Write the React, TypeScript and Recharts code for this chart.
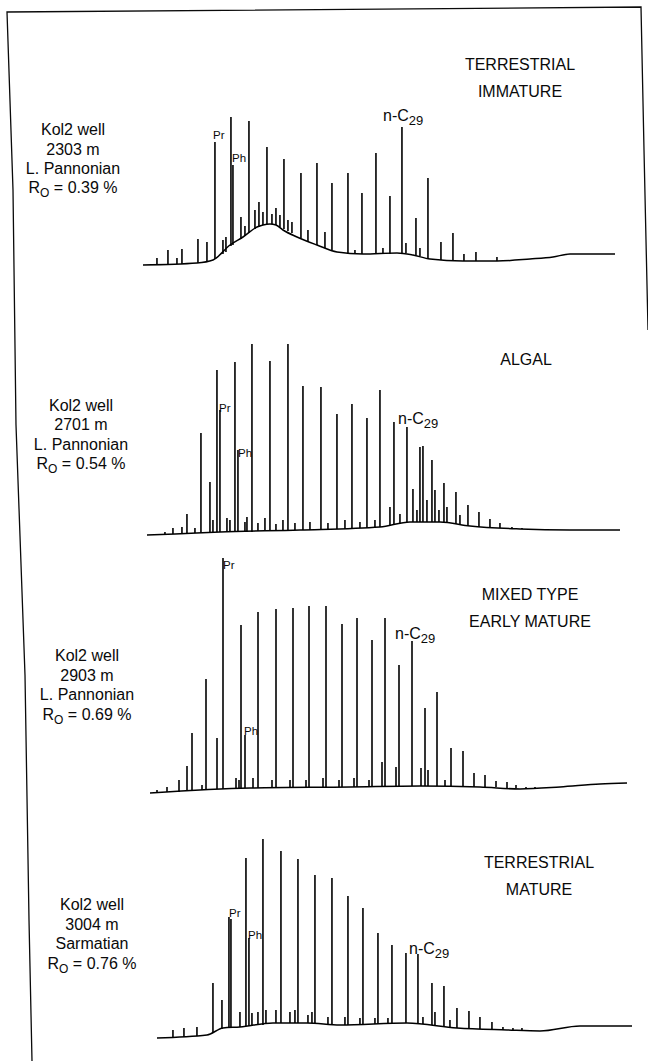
import React from "react";
import { ComposedChart, Bar, Line, XAxis, YAxis } from "recharts";

// ---------- data (retention time, arbitrary units; intensity, arbitrary units) ----------
// peaks: [retentionTime, foot intensity, apex intensity]
const peaks1: number[][] = [
  [1.7, 5, 12], [2.8, 6, 20], [3.7, 6, 12], [4.2, 6, 21], [5.8, 7, 31], [6.7, 8, 28],
  [7.5, 11, 128], [8.3, 16, 30], [8.6, 18, 33], [9.1, 24, 153], [9.3, 25, 105],
  [10.1, 31, 53], [10.5, 34, 44], [10.9, 37, 149], [11.5, 41, 60], [11.9, 43, 68],
  [12.3, 45, 58], [12.7, 46, 123], [13.2, 46, 56], [13.6, 45, 62], [14.0, 43, 55],
  [14.4, 41, 111], [14.8, 39, 50], [15.2, 37, 48], [16.1, 32, 97], [16.8, 29, 40],
  [17.7, 25, 107], [18.5, 22, 38], [19.2, 20, 87], [20.8, 17, 97], [21.5, 16, 20],
  [22.2, 16, 77], [23.6, 16, 117], [24.3, 16, 22], [25.0, 16, 74], [26.2, 17, 143],
  [26.6, 17, 27], [27.6, 15, 52], [28.0, 14, 22], [28.8, 12, 92], [30.1, 10, 28],
  [31.3, 9, 37], [32.4, 9, 16], [33.6, 9, 18], [35.7, 9, 13],
];
const baseline1: number[][] = [
  [0.3, 5], [5.7, 7], [7.3, 10], [9.0, 25], [10.3, 33], [11.7, 43], [12.3, 45],
  [13.0, 46], [13.6, 45], [14.3, 40], [15.7, 33], [17.7, 25], [19.7, 18], [22.3, 16],
  [25.7, 17], [27.3, 15], [29.0, 11], [32.3, 9], [35.7, 9], [39.0, 11], [41.3, 13],
  [43.0, 16], [47.5, 16],
];

const peaks2: number[][] = [
  [2.5, 6, 8], [3.3, 6, 12], [4.2, 6, 13], [4.7, 6, 26], [5.5, 7, 12], [6.1, 7, 107],
  [7.0, 7, 58], [7.3, 7, 20], [7.7, 8, 170], [8.0, 8, 130], [8.7, 8, 22], [9.0, 8, 20],
  [9.5, 8, 178], [9.8, 8, 90], [10.5, 8, 18], [10.7, 8, 23], [11.2, 8, 196], [11.8, 9, 17],
  [12.5, 9, 22], [13.0, 9, 179], [13.6, 9, 16], [14.3, 9, 20], [14.8, 9, 196], [15.5, 10, 17],
  [16.3, 10, 154], [17.0, 10, 18], [18.1, 10, 153], [18.8, 10, 17], [19.7, 11, 126],
  [20.5, 11, 20], [21.2, 11, 136], [22.0, 12, 18], [22.7, 12, 122], [23.5, 12, 20],
  [24.0, 13, 150], [25.0, 14, 33], [25.4, 15, 118], [26.0, 16, 26], [26.7, 18, 113],
  [27.3, 18, 51], [27.7, 18, 30], [28.0, 18, 93], [28.3, 18, 94], [28.7, 18, 40],
  [29.2, 18, 80], [29.5, 18, 50], [29.9, 18, 30], [30.4, 18, 57], [30.7, 17, 33],
  [31.6, 16, 48], [32.0, 15, 25], [32.8, 14, 35], [33.9, 13, 28], [35.0, 12, 21],
  [36.0, 12, 17], [37.2, 11, 13], [38.2, 11, 12],
];
const baseline2: number[][] = [
  [0.7, 5], [3.5, 6], [8.0, 8], [16.0, 10], [24.0, 13], [27.0, 18], [30.0, 18],
  [33.0, 14], [38.0, 11], [43.0, 10], [48.0, 10],
];

const peaks3: number[][] = [
  [1.7, 7, 10], [2.7, 8, 13], [3.9, 8, 20], [4.7, 9, 34], [5.2, 9, 67], [6.2, 10, 15],
  [6.6, 10, 121], [7.7, 11, 62], [8.3, 11, 242], [9.6, 12, 22], [9.9, 12, 20],
  [10.1, 12, 175], [10.5, 12, 65], [11.3, 12, 22], [11.8, 12, 188], [13.2, 12, 20],
  [13.6, 12, 191], [15.0, 12, 20], [15.3, 12, 192], [16.6, 12, 20], [16.9, 12, 194],
  [18.3, 13, 22], [18.6, 13, 194], [19.9, 13, 20], [20.2, 13, 176], [21.4, 13, 22],
  [21.7, 13, 182], [22.9, 13, 20], [23.2, 13, 160], [24.2, 13, 38], [24.5, 13, 182],
  [25.6, 14, 33], [25.9, 14, 135], [27.2, 14, 159], [28.1, 14, 32], [28.5, 14, 92],
  [28.8, 14, 30], [29.7, 14, 108], [30.5, 14, 20], [31.1, 14, 52], [32.3, 13, 49],
  [33.4, 13, 27], [34.5, 13, 25], [35.6, 13, 19], [36.7, 12, 18], [37.6, 12, 15],
  [38.6, 11, 13], [39.5, 12, 13],
];
const baseline3: number[][] = [
  [1.0, 7], [11.0, 12], [21.0, 13], [28.0, 14], [34.0, 13], [38.0, 11], [42.0, 13],
  [46.0, 16], [48.7, 17],
];

const peaks4: number[][] = [
  [3.3, 8, 15], [4.4, 8, 17], [5.7, 9, 18], [7.3, 12, 62], [8.2, 16, 45], [8.9, 17, 128],
  [9.1, 17, 126], [10.0, 18, 33], [10.6, 19, 187], [10.9, 19, 107], [11.2, 19, 32],
  [11.8, 20, 33], [12.3, 20, 206], [12.6, 21, 35], [13.6, 22, 35], [14.1, 22, 194],
  [15.0, 22, 33], [15.5, 22, 35], [15.8, 22, 186], [16.8, 22, 30], [17.2, 22, 33],
  [17.5, 22, 170], [18.8, 21, 28], [19.2, 21, 167], [20.5, 20, 28], [20.8, 20, 149],
  [22.0, 21, 27], [22.3, 21, 137], [23.5, 21, 27], [23.8, 21, 112], [24.8, 22, 27],
  [25.2, 22, 100], [26.6, 22, 92], [27.8, 21, 91], [28.3, 21, 28], [29.2, 20, 62],
  [29.5, 20, 33], [30.4, 19, 59], [31.0, 18, 25], [31.7, 17, 37], [32.9, 16, 34],
  [34.0, 16, 28], [35.2, 15, 23], [36.3, 15, 18], [37.3, 15, 17], [38.2, 15, 17],
];
const baseline4: number[][] = [
  [1.7, 7], [6.7, 10], [8.3, 17], [10.0, 18], [13.3, 22], [16.7, 22], [20.0, 20],
  [26.7, 22], [31.7, 17], [36.7, 15], [40.0, 14], [44.0, 19], [49.2, 19],
];

// sample descriptions
const sampleLines1 = ["Kol2 well", "2303 m", "L. Pannonian", "0.39 %"];
const sampleLines2 = ["Kol2 well", "2701 m", "L. Pannonian", "0.54 %"];
const sampleLines3 = ["Kol2 well", "2903 m", "L. Pannonian", "0.69 %"];
const sampleLines4 = ["Kol2 well", "3004 m", "Sarmatian", "0.76 %"];
const typeLines1 = ["TERRESTRIAL", "IMMATURE"];
const typeLines2 = ["ALGAL"];
const typeLines3 = ["MIXED TYPE", "EARLY MATURE"];
const typeLines4 = ["TERRESTRIAL", "MATURE"];

const FONT = '"Liberation Sans", Arial, Helvetica, sans-serif';
const INK = "#0a0a0a";

type PanelProps = { peaks: number[][]; baseline: number[][]; top: number; max: number };

// draws each range bar as a crisp vertical stroke at the bar's centre
function PeakShape(props: any) {
  const { x, y, width, height } = props;
  if (x == null || y == null) return null;
  const cx = x + (width || 0) / 2;
  return <line x1={cx} x2={cx} y1={y} y2={y + height} stroke="#000" strokeWidth={1.6} />;
}

function Panel({ peaks, baseline, top, max }: PanelProps) {
  const data = peaks.map(([rt, lo, hi]) => ({ rt, range: [lo, hi] }));
  const base = baseline.map(([rt, i]) => ({ rt, i }));
  const height = max + 20;
  return (
    <div style={{ position: "absolute", left: 0, top: top - 10, width: 648, height }}>
      <ComposedChart width={648} height={height} data={data} margin={{ top: 10, right: 8, bottom: 10, left: 140 }}>
        <XAxis type="number" dataKey="rt" domain={[0, 50]} hide />
        <YAxis type="number" domain={[0, max]} hide />
        <Bar dataKey="range" barSize={1} fill="#000" shape={PeakShape} isAnimationActive={false} />
        <Line
          data={base}
          dataKey="i"
          type="monotone"
          stroke="#000"
          strokeWidth={1.5}
          dot={false}
          isAnimationActive={false}
        />
      </ComposedChart>
    </div>
  );
}

function SampleText({ lines, cx, ys }: { lines: string[]; cx: number; ys: number[] }) {
  return (
    <g fontFamily={FONT} fontSize={16} fill={INK} textAnchor="middle">
      <text x={cx} y={ys[0]}>{lines[0]}</text>
      <text x={cx} y={ys[1]}>{lines[1]}</text>
      <text x={cx} y={ys[2]}>{lines[2]}</text>
      <text x={cx} y={ys[3]}>
        R<tspan dy={4} fontSize={12}>O</tspan>
        <tspan dy={-4}>{" = " + lines[3]}</tspan>
      </text>
    </g>
  );
}

function TypeText({ lines, cx, y0 }: { lines: string[]; cx: number; y0: number }) {
  return (
    <g fontFamily={FONT} fontSize={16} fill={INK} textAnchor="middle">
      {lines.map((l, i) => (
        <text key={i} x={cx} y={y0 + i * 27}>{l}</text>
      ))}
    </g>
  );
}

function PeakLabels({ pr, ph, nc }: { pr: number[]; ph: number[]; nc: number[] }) {
  return (
    <g fontFamily={FONT} fill={INK}>
      <text x={pr[0]} y={pr[1]} fontSize={11.5}>Pr</text>
      <text x={ph[0]} y={ph[1]} fontSize={11.5}>Ph</text>
      <text x={nc[0]} y={nc[1]} fontSize={16}>
        n-C<tspan dy={4} fontSize={13}>29</tspan>
      </text>
    </g>
  );
}

export default function App() {
  return (
    <div style={{ position: "absolute", left: 0, top: 0, width: 648, height: 1061, background: "#fff", overflow: "hidden" }}>
      <Panel peaks={peaks1} baseline={baseline1} top={100} max={170} />
      <Panel peaks={peaks2} baseline={baseline2} top={330} max={210} />
      <Panel peaks={peaks3} baseline={baseline3} top={550} max={250} />
      <Panel peaks={peaks4} baseline={baseline4} top={830} max={215} />
      <svg width={648} height={1061} style={{ position: "absolute", left: 0, top: 0, pointerEvents: "none" }}>
        <polyline
          points="32,1061 29,920 25,675 16,425 13,190 7,12 641,7 644,150 648,330"
          fill="none"
          stroke={INK}
          strokeWidth={1.3}
        />
        <SampleText lines={sampleLines1} cx={73} ys={[135, 155, 174, 193]} />
        <SampleText lines={sampleLines2} cx={81} ys={[411, 430, 450, 469]} />
        <SampleText lines={sampleLines3} cx={87} ys={[661, 681, 700, 720]} />
        <SampleText lines={sampleLines4} cx={92} ys={[910, 930, 949, 969]} />
        <TypeText lines={typeLines1} cx={520} y0={70} />
        <TypeText lines={typeLines2} cx={526} y0={365} />
        <TypeText lines={typeLines3} cx={530} y0={600} />
        <TypeText lines={typeLines4} cx={539} y0={868} />
        <PeakLabels pr={[213, 139]} ph={[232, 162]} nc={[383, 121]} />
        <PeakLabels pr={[219, 412]} ph={[238, 457]} nc={[398, 424]} />
        <PeakLabels pr={[223, 569]} ph={[244, 735]} nc={[395, 639]} />
        <PeakLabels pr={[229, 917]} ph={[248, 939]} nc={[409, 954]} />
      </svg>
    </div>
  );
}
